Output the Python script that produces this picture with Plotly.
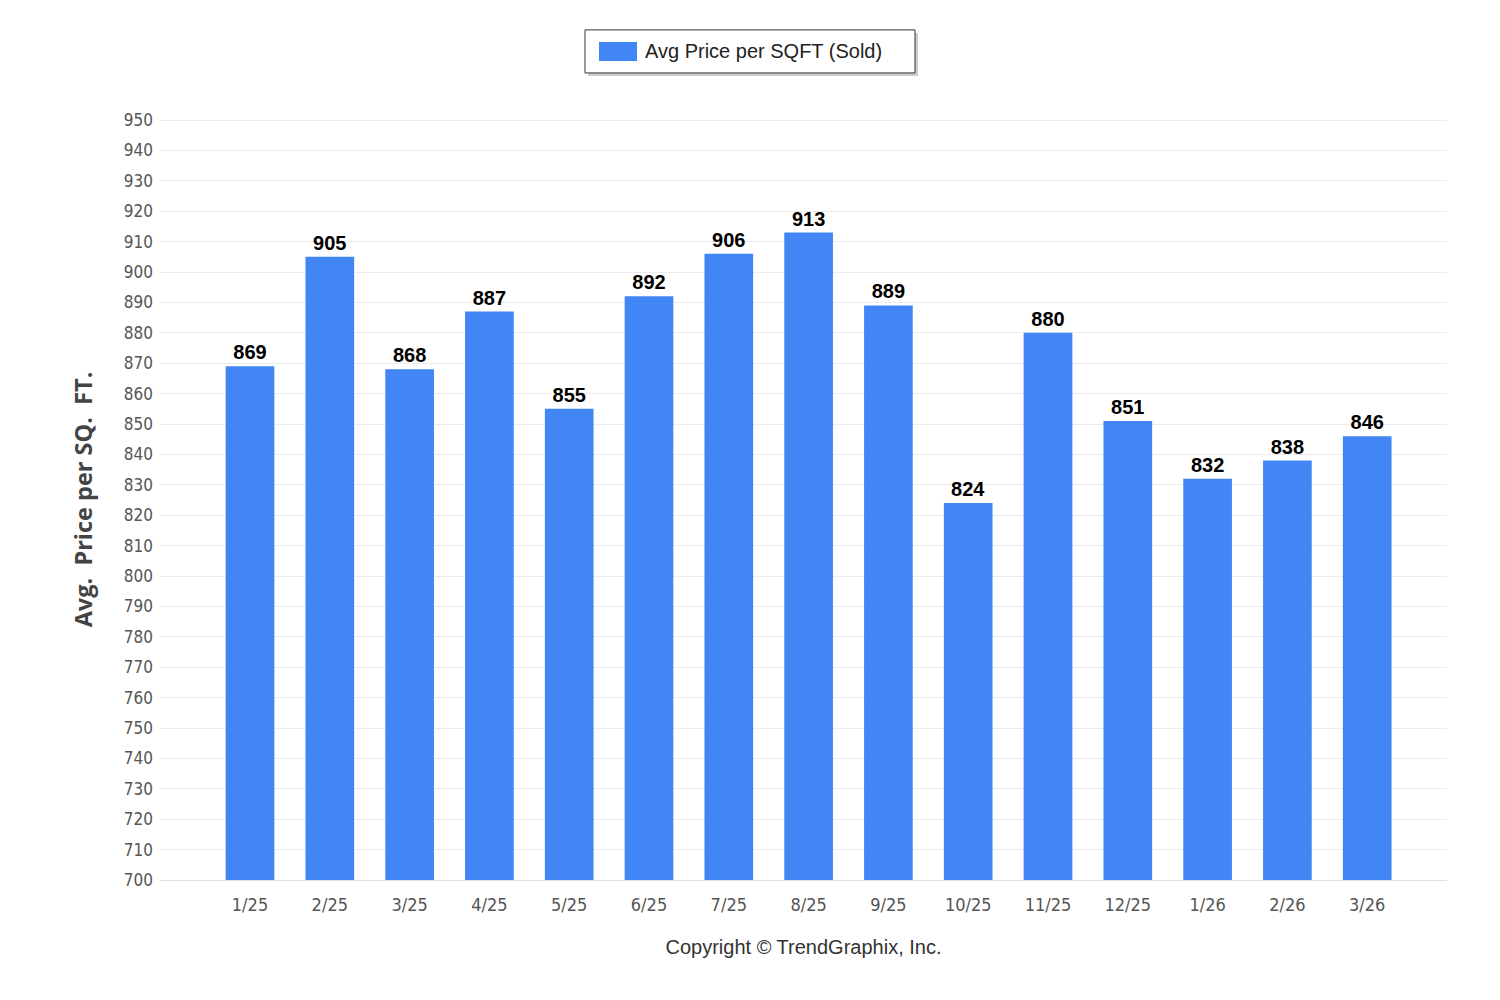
import plotly.graph_objects as go

months = ["1/25", "2/25", "3/25", "4/25", "5/25", "6/25", "7/25", "8/25",
          "9/25", "10/25", "11/25", "12/25", "1/26", "2/26", "3/26"]
avg_price_sqft = [869, 905, 868, 887, 855, 892, 906, 913, 889, 824, 880, 851, 832, 838, 846]
y_ticks = list(range(700, 951, 10))

series_name = "Avg Price per SQFT (Sold)"
bar_color = "#4285F4"
cond_font = "Liberation Sans Narrow, DejaVu Sans Condensed, Arial Narrow, sans-serif"

fig = go.Figure()
fig.add_trace(go.Bar(
    x=list(range(len(months))),
    y=avg_price_sqft,
    name=series_name,
    marker=dict(color=bar_color, line=dict(width=0)),
    width=0.61,
    text=avg_price_sqft,
    texttemplate="<b>%{text}</b>",
    textposition="outside",
    cliponaxis=False,
    textfont=dict(family="Liberation Sans, Arial, sans-serif", size=20, color="#000000"),
    showlegend=False,
))

fig.update_layout(
    width=1500, height=1000,
    margin=dict(l=152, r=61, t=111, b=128),
    paper_bgcolor="white", plot_bgcolor="white",
    xaxis=dict(
        range=[-1.128, 15],
        tickmode="array",
        tickvals=list(range(len(months))),
        ticktext=months,
        showgrid=False,
        showline=True, linecolor="#e0e0e0", linewidth=1,
        ticks="", zeroline=False, ticklabelstandoff=8,
        tickfont=dict(family=cond_font, size=18, color="#555555"),
        title=dict(text="Copyright © TrendGraphix, Inc.",
                   font=dict(family="Liberation Sans, Arial, sans-serif", size=20, color="#333333"),
                   standoff=26),
    ),
    yaxis=dict(
        range=[700, 950.35],
        tickmode="array",
        tickvals=y_ticks,
        ticktext=[str(v) for v in y_ticks],
        showgrid=True, gridcolor="#ebebeb", gridwidth=1,
        zeroline=False,
        ticks="", ticklabelstandoff=6,
        tickfont=dict(family=cond_font, size=17, color="#555555"),
        title=dict(text="<b>Avg.  Price per SQ.  FT.</b>",
                   font=dict(family="Open Sans, DejaVu Sans, sans-serif", size=23.5, color="#444444"),
                   standoff=24),
    ),
)

# custom legend box
fig.add_shape(type="rect", xref="paper", yref="paper",
              x0=(588 - 160) / 1287, x1=(918 - 160) / 1287,
              y0=(880 - 77) / 760, y1=(880 - 34) / 760,
              line=dict(width=0), fillcolor="#cccccc", layer="below")
fig.add_shape(type="rect", xref="paper", yref="paper",
              x0=(585 - 160) / 1287, x1=(915 - 160) / 1287,
              y0=(880 - 74) / 760, y1=(880 - 31) / 760,
              line=dict(width=1, color="#333333"), fillcolor="white")
fig.add_shape(type="rect", xref="paper", yref="paper",
              x0=(599 - 160) / 1287, x1=(637 - 160) / 1287,
              y0=(880 - 62) / 760, y1=(880 - 43) / 760,
              line=dict(width=0), fillcolor=bar_color)
fig.add_annotation(xref="paper", yref="paper",
                   x=(643 - 160) / 1287, y=(880 - 52) / 760,
                   xanchor="left", yanchor="middle", showarrow=False,
                   text=series_name,
                   font=dict(family="Liberation Sans, Arial, sans-serif", size=20, color="#222222"))

fig.write_html("out.html")
